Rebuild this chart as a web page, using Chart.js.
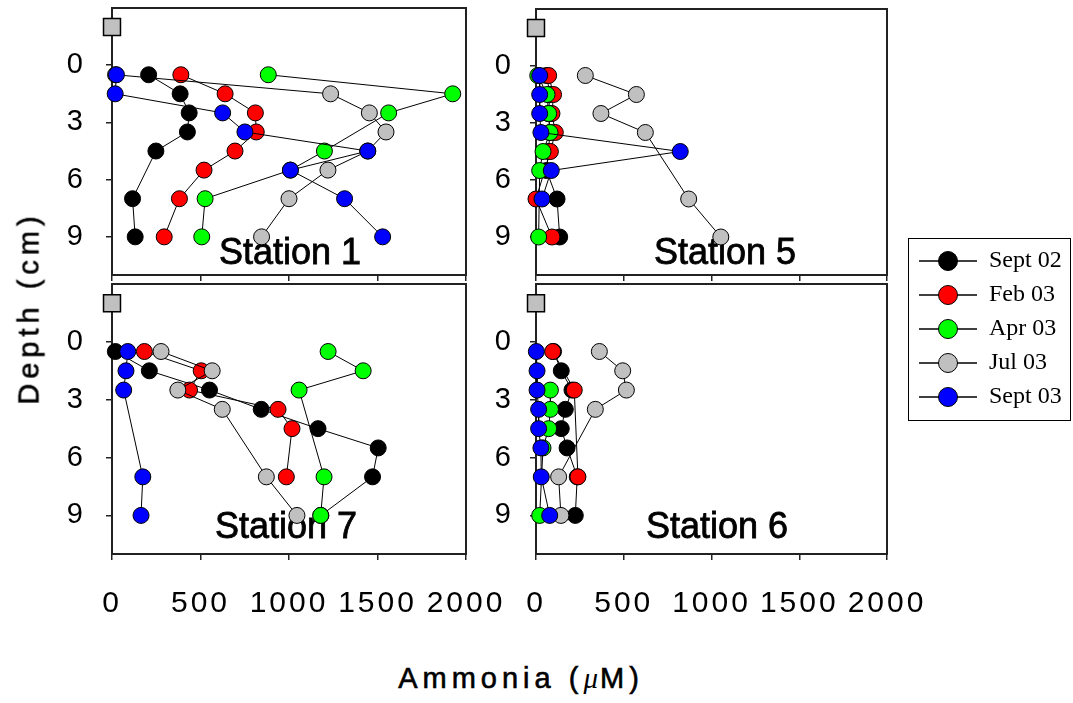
<!DOCTYPE html>
<html>
<head>
<meta charset="utf-8">
<script src="https://cdn.jsdelivr.net/npm/chart.js@4.4.1/dist/chart.umd.min.js"></script>
<style>
  body { margin: 0; background: #fff; }
  #page { position: relative; width: 1073px; height: 703px; background: #fff; overflow: hidden; }
  canvas { position: absolute; }
  .title { position: absolute; font-family: "Liberation Sans", Arial, sans-serif; font-size: 29px; letter-spacing: 5px; color: #000; white-space: nowrap; -webkit-text-stroke: 0.6px #000; }
  .mu { font-family: "Liberation Serif", "Times New Roman", serif; font-style: italic; -webkit-text-stroke: 0; letter-spacing: 2px; }
  #legendBox { position: absolute; left: 908px; top: 238px; width: 163px; height: 183px; border: 1.5px solid #000; box-sizing: border-box; }
</style>
</head>
<body>
<div id="page">
  <canvas id="st1" width="520" height="285" style="left:0;top:0"></canvas>
  <canvas id="st5" width="460" height="285" style="left:480px;top:0"></canvas>
  <canvas id="st7" width="520" height="340" style="left:0;top:280px"></canvas>
  <canvas id="st6" width="460" height="340" style="left:480px;top:280px"></canvas>
  <div id="legendBox"><canvas id="legend" width="160" height="180" style="left:0;top:0"></canvas></div>
  <div class="title" style="left:29px;top:308px;transform:translate(-50%,-50%) rotate(-90deg)">Depth (cm)</div>
  <div class="title" style="left:521px;top:678px;transform:translate(-50%,-50%)">Ammonia (<span class="mu">μ</span>M)</div>
</div>
<script>
// sampling depths (cm), one value per depth in each series below (null = no point)
const depthCm = [0.5, 1.5, 2.5, 3.5, 4.5, 5.5, 7, 9];
const seriesNames = ['Sept 02', 'Feb 03', 'Apr 03', 'Jul 03', 'Sept 03'];
const xTicks = [0, 500, 1000, 1500, 2000];
const yTicks = [0, 3, 6, 9];

// ammonia (uM) per series: Sept 02, Feb 03, Apr 03, Jul 03, Sept 03
const station1 = [
  [207, 385, 436, 426, 248, null, 116, 131],
  [389, 639, 810, 815, 695, 520, 381, 295],
  [883, 1925, 1563, null, 1200, 1008, 526, 507],
  [20, 1235, 1454, 1548, 1445, 1220, 1000, 845],
  [25, 18, 625, 751, 1445, 1008, 1314, 1529]
];
const station5 = [
  [60, 80, 70, 80, 70, 60, 120, 135],
  [72, 100, 91, 110, 82, null, 0, 91],
  [10, 63, 72, 80, 40, 21, null, 15],
  [281, 572, 370, 623, null, null, 870, 1053],
  [21, 21, 21, 28, 822, 87, 34, null]
];
const station7 = [
  [19, 211, 551, 843, 1164, 1504, 1472, 1180],
  [183, 504, 438, 938, 1017, null, 985, null],
  [1221, 1419, 1057, null, null, null, 1198, 1179],
  [277, 566, 372, 623, null, null, 872, 1045],
  [89, 79, 66, null, null, null, 174, 164]
];
const station6 = [
  [100, 144, 205, 167, 144, 177, 235, 224],
  [95, null, 218, null, null, null, 239, null],
  [null, null, 82, 82, 72, 40, null, 21],
  [361, 494, 515, 338, null, null, 129, 142],
  [2, 6, 6, 15, 15, 28, 30, 78]
];
// the grey square drawn above the profiles in every panel
const markerAmmonia = [0];
const markerDepth = [-2];

const seriesColors = ['#000000', '#ff0000', '#00ff00', '#c0c0c0', '#0000ff'];
const drawOrder = [5, 4, 2, 3, 1]; // lower = drawn on top
const sans = '"Liberation Sans", Arial, sans-serif';

function toPoints(vals) {
  return vals.map((v, i) => v == null ? null : { x: v, y: depthCm[i] }).filter(Boolean);
}

const boxPlugin = {
  id: 'panelBox',
  beforeDraw(chart) { chart.ctx.letterSpacing = '3px'; },
  beforeDatasetsDraw(chart, args, opts) {
    const { ctx, chartArea: a } = chart;
    ctx.save();
    ctx.strokeStyle = '#222';
    ctx.lineWidth = 2;
    ctx.strokeRect(a.left, a.top, a.right - a.left, a.bottom - a.top);
    // station name
    ctx.letterSpacing = '0px';
    ctx.fillStyle = '#000';
    ctx.strokeStyle = '#000';
    ctx.lineWidth = 0.8;
    ctx.font = '36px ' + sans;
    ctx.textAlign = 'center';
    ctx.textBaseline = 'middle';
    ctx.fillText(opts.text, opts.x, opts.y);
    ctx.strokeText(opts.text, opts.x, opts.y);
    ctx.restore();
  }
};

// fixed axis sizes so all four plot boxes line up like the original
function fixSize(prop, size) {
  return s => {
    s[prop] = size;
    s.paddingTop = 0; s.paddingBottom = 0;
    s.paddingLeft = 0; s.paddingRight = 0;
  };
}

function makePanel(id, values, cfg) {
  const datasets = values.map((vals, i) => ({
    label: seriesNames[i],
    data: toPoints(vals),
    showLine: true,
    borderColor: '#000',
    borderWidth: 1,
    pointRadius: 8,
    pointBorderWidth: 1,
    pointBorderColor: '#000',
    pointBackgroundColor: seriesColors[i],
    backgroundColor: seriesColors[i],
    order: drawOrder[i],
    clip: false
  }));
  datasets.push({
    label: 'marker',
    data: markerAmmonia.map((x, i) => ({ x: x, y: markerDepth[i] })),
    showLine: false,
    pointStyle: 'rect',
    pointRadius: 12,
    pointBackgroundColor: '#c0c0c0',
    pointBorderColor: '#000',
    pointBorderWidth: 1.5,
    order: 0,
    clip: false
  });

  return new Chart(document.getElementById(id), {
    type: 'scatter',
    data: { datasets },
    options: {
      responsive: false,
      animation: false,
      devicePixelRatio: 1,
      events: [],
      layout: { padding: cfg.padding, autoPadding: false },
      plugins: {
        legend: { display: false },
        tooltip: { enabled: false },
        panelBox: { text: cfg.label, x: cfg.lx, y: cfg.ly }
      },
      scales: {
        x: {
          type: 'linear', min: 0, max: 2000,
          afterBuildTicks: s => { s.ticks = xTicks.map(v => ({ value: v })); },
          afterFit: fixSize('height', cfg.xh),
          ticks: { display: cfg.showX, padding: 26, color: '#000', maxRotation: 0, autoSkip: false,
                   callback: v => String(v), font: { family: sans, size: 30 } },
          grid: { drawOnChartArea: false, tickLength: 6, color: '#222', lineWidth: 1.5 },
          border: { color: '#222', width: 2 }
        },
        y: {
          type: 'linear', min: -3, max: 11, reverse: true,
          afterBuildTicks: s => { s.ticks = yTicks.map(v => ({ value: v })); },
          afterFit: fixSize('width', cfg.yw),
          ticks: { padding: cfg.ypad, color: '#000', callback: v => String(v),
                   font: { family: sans, size: 29 } },
          grid: { drawOnChartArea: false, tickLength: 6, color: '#222', lineWidth: 1.5 },
          border: { color: '#222', width: 2 }
        }
      }
    },
    plugins: [boxPlugin]
  });
}

makePanel('st1', station1, { padding: { left: 0, top: 8, right: 54, bottom: 0 }, yw: 112, xh: 10, ypad: 20, showX: false, label: 'Station 1', lx: 290, ly: 254 });
makePanel('st5', station5, { padding: { left: 0, top: 9, right: 53, bottom: 0 }, yw: 56, xh: 10, ypad: 16, showX: false, label: 'Station 5', lx: 245, ly: 254 });
makePanel('st7', station7, { padding: { left: 0, top: 4, right: 54, bottom: 0 }, yw: 112, xh: 66, ypad: 20, showX: true, label: 'Station 7', lx: 286, ly: 248 });
makePanel('st6', station6, { padding: { left: 0, top: 4, right: 53, bottom: 0 }, yw: 56, xh: 66, ypad: 16, showX: true, label: 'Station 6', lx: 237, ly: 248 });

// legend: line through a marker, as in the original key
function legendIcon(color) {
  const c = document.createElement('canvas');
  c.width = 58; c.height = 22;
  const g = c.getContext('2d');
  g.strokeStyle = '#000';
  g.lineWidth = 1.5;
  g.beginPath(); g.moveTo(0, 11); g.lineTo(58, 11); g.stroke();
  g.beginPath(); g.arc(29, 11, 9.5, 0, Math.PI * 2);
  g.fillStyle = color; g.fill();
  g.lineWidth = 1; g.stroke();
  return c;
}

new Chart(document.getElementById('legend'), {
  type: 'scatter',
  data: {
    datasets: seriesNames.map((name, i) => ({
      label: name,
      data: [],
      pointStyle: legendIcon(seriesColors[i]),
      backgroundColor: seriesColors[i],
      borderColor: '#000'
    }))
  },
  options: {
    responsive: false,
    animation: false,
    devicePixelRatio: 1,
    events: [],
    layout: { padding: 0 },
    scales: { x: { display: false }, y: { display: false } },
    plugins: {
      tooltip: { enabled: false },
      legend: {
        position: 'left',
        align: 'start',
        maxWidth: 160,
        labels: {
          usePointStyle: true,
          pointStyleWidth: 58,
          padding: 10,
          color: '#000',
          font: { family: '"Liberation Serif", "Times New Roman", serif', size: 24 }
        }
      }
    }
  }
});
</script>
</body>
</html>
